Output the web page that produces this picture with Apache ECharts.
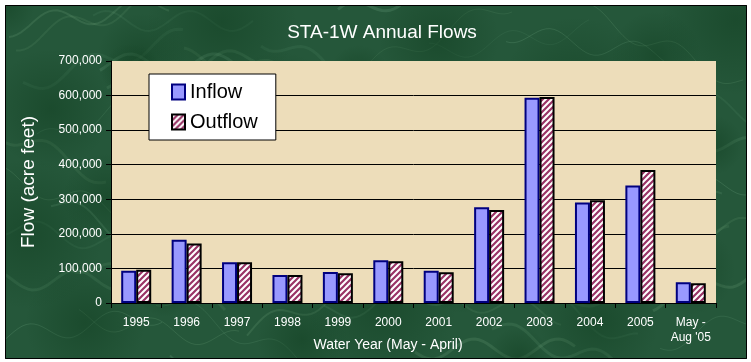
<!DOCTYPE html>
<html>
<head>
<meta charset="utf-8">
<script src="https://cdn.jsdelivr.net/npm/echarts@6/dist/echarts.min.js"></script>
<style>
html,body{margin:0;padding:0;background:#fff;}
#chart{width:751px;height:362px;}
</style>
</head>
<body>
<div id="chart"></div>
<script>
const categories = ['1995','1996','1997','1998','1999','2000','2001','2002','2003','2004','2005','May -\nAug \'05'];
const inflow  = [93000, 183000, 118000, 81000, 90000, 124000, 93000, 277000, 594000, 291000, 340000, 60000];
const outflow = [96000, 172000, 118000, 81000, 86000, 121000, 89000, 269000, 596000, 297000, 385000, 57000];
const yMin = 0, yMax = 700000, yStep = 100000;

function stripePattern() {
  const s = 6;
  const c = document.createElement('canvas');
  c.width = s; c.height = s;
  const g = c.getContext('2d');
  g.fillStyle = '#ffffff';
  g.fillRect(0, 0, s, s);
  g.strokeStyle = '#993366';
  g.lineWidth = 2.2;
  g.beginPath();
  g.moveTo(-s, 2 * s); g.lineTo(2 * s, -s);
  g.moveTo(-s, s); g.lineTo(s, -s);
  g.moveTo(0, 2 * s); g.lineTo(2 * s, 0);
  g.stroke();
  return c;
}

function marble(w, h) {
  const c = document.createElement('canvas');
  c.width = w; c.height = h;
  const g = c.getContext('2d');
  g.fillStyle = '#25573a';
  g.fillRect(0, 0, w, h);
  for (let i = 0; i < 60; i++) {
    const y0 = (i * 37) % h;
    const x0 = (i * 91) % w;
    g.strokeStyle = 'rgba(120,175,135,' + (0.10 + (i % 5) * 0.03) + ')';
    g.lineWidth = 1 + (i % 3);
    g.beginPath();
    for (let t = 0; t <= 40; t++) {
      const x = x0 + t * 4 - 80;
      const y = y0 + Math.sin(t * 0.3 + i) * 10 + t * ((i % 7) - 3) * 0.6;
      if (t === 0) g.moveTo(x, y); else g.lineTo(x, y);
    }
    g.stroke();
  }
  for (let i = 0; i < 30; i++) {
    const x = (i * 137) % w, y = (i * 53) % h;
    const r = 30 + (i % 4) * 15;
    const grd = g.createRadialGradient(x, y, 0, x, y, r);
    grd.addColorStop(0, 'rgba(15,60,30,0.45)');
    grd.addColorStop(1, 'rgba(15,60,30,0)');
    g.fillStyle = grd;
    g.fillRect(x - r, y - r, 2 * r, 2 * r);
  }
  return c;
}

const chart = echarts.init(document.getElementById('chart'), null, {renderer: 'canvas'});
const lineColors = [];
for (let v = yMin; v <= yMax; v += yStep) lineColors.push(v === yMax ? 'rgba(0,0,0,0)' : '#000000');

const option = {
  backgroundColor: '#ffffff',
  animation: false,
  graphic: [{
    type: 'image', z: -10, left: 5, top: 5,
    style: {image: marble(742, 354), width: 742, height: 354}
  }, {
    type: 'rect', z: -9, shape: {x: 5.5, y: 5.5, width: 741, height: 353},
    style: {fill: 'none', stroke: '#000', lineWidth: 1}
  }],
  title: [{
    text: 'STA-1W Annual Flows', left: 377, top: 18, textAlign: 'center',
    textStyle: {color: '#ffffff', fontFamily: 'Liberation Sans, Arial', fontSize: 19, fontWeight: 'normal'}
  }, {
    text: 'Water Year (May - April)', left: 383, top: 333, textAlign: 'center',
    textStyle: {color: '#ffffff', fontFamily: 'Liberation Sans, Arial', fontSize: 14, fontWeight: 'normal'}
  }],
  grid: {
    left: 111, right: 35, top: 61, bottom: 59, show: true,
    backgroundColor: '#EDDDBA', borderWidth: 0
  },
  legend: {
    orient: 'vertical', left: 149, top: 74,
    backgroundColor: '#ffffff', borderColor: '#000', borderWidth: 1,
    padding: [8, 18, 8, 22], itemGap: 10, itemWidth: 13, itemHeight: 15,
    icon: 'rect',
    textStyle: {color: '#000', fontFamily: 'Liberation Sans, Arial', fontSize: 20},
    data: ['Inflow', 'Outflow']
  },
  xAxis: {
    type: 'category', data: categories,
    axisLine: {lineStyle: {color: '#000', width: 1}},
    axisTick: {show: true, length: 5, lineStyle: {color: '#000'}},
    axisLabel: {color: '#ffffff', fontFamily: 'Liberation Sans, Arial', fontSize: 12, margin: 12, lineHeight: 15, interval: 0}
  },
  yAxis: {
    type: 'value', min: yMin, max: yMax, interval: yStep,
    name: 'Flow (acre feet)', nameLocation: 'middle', nameGap: 73,
    nameTextStyle: {color: '#ffffff', fontFamily: 'Liberation Sans, Arial', fontSize: 19},
    axisLine: {show: true, lineStyle: {color: '#000'}},
    axisTick: {show: true, length: 5, lineStyle: {color: '#000'}},
    axisLabel: {color: '#ffffff', fontFamily: 'Liberation Sans, Arial', fontSize: 12, margin: 9,
      formatter: v => v.toLocaleString('en-US')},
    splitLine: {show: true, lineStyle: {color: lineColors, width: 1}}
  },
  series: [{
    name: 'Inflow', type: 'bar', data: inflow, barWidth: 15, barGap: '0%',
    itemStyle: {color: '#9999FF', borderColor: '#000080', borderWidth: 2}
  }, {
    name: 'Outflow', type: 'bar', data: outflow, barWidth: 15, barGap: '0%',
    itemStyle: {color: {image: stripePattern(), repeat: 'repeat'}, borderColor: '#000000', borderWidth: 2}
  }]
};
chart.setOption(option);
</script>
</body>
</html>
